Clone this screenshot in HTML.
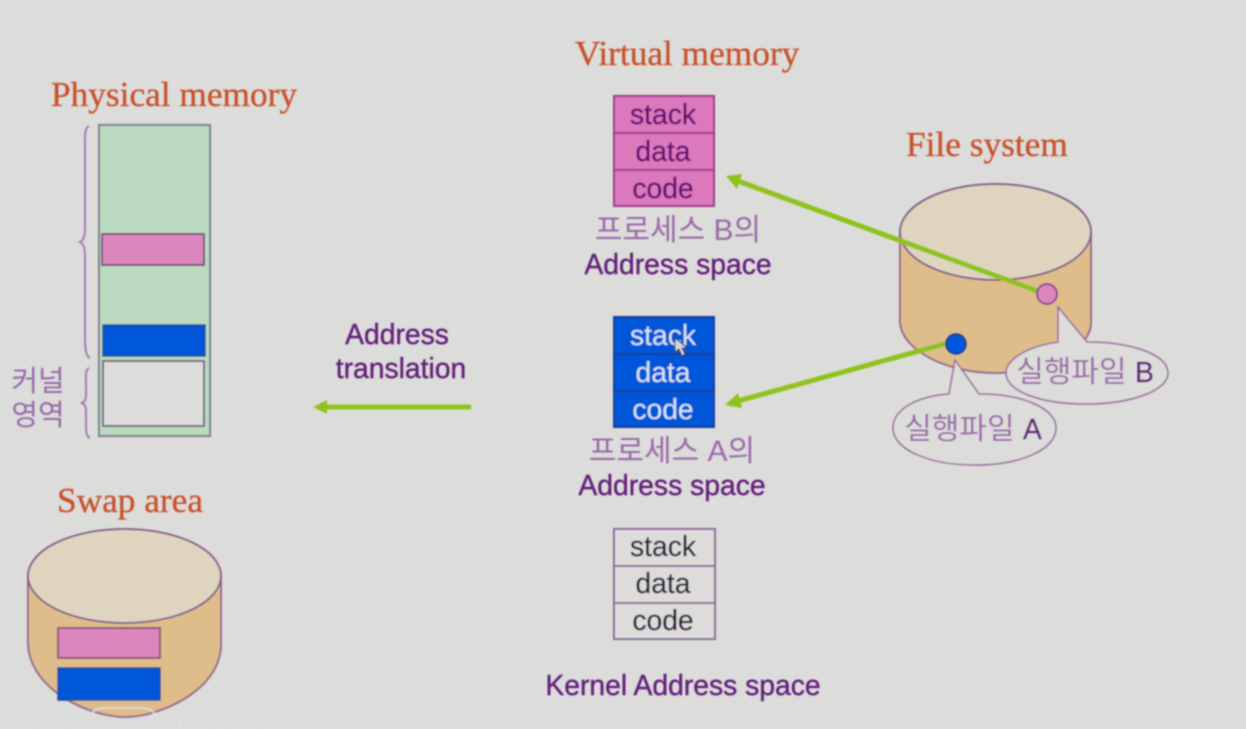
<!DOCTYPE html>
<html><head><meta charset="utf-8"><style>
html,body{margin:0;padding:0;background:#dcdcda;width:1246px;height:729px;overflow:hidden}
svg{display:block}
.t{font-family:"Liberation Serif",serif;fill:#c8512a;font-size:35.300px;stroke:#c8512a;stroke-width:0.300px}
.s{font-family:"Liberation Sans","Noto Sans CJK KR",sans-serif;font-size:28.300px;text-anchor:middle}
.p{fill:#64207c;stroke:#64207c;stroke-width:0.400px}
.k{fill:#9a6aa8;font-size:30px}
</style></head><body>
<svg width="1246" height="729" viewBox="0 0 1246 729" xmlns="http://www.w3.org/2000/svg">
<defs><filter id="b" x="-5%" y="-5%" width="110%" height="110%"><feGaussianBlur stdDeviation="0.7"/></filter></defs>
<rect width="1246" height="729" fill="#dcdcda"/>
<g filter="url(#b)">
<text class="t" x="51" y="106">Physical memory</text>
<text class="t" x="575" y="65">Virtual memory</text>
<text class="t" x="906" y="156">File system</text>
<text class="t" x="57" y="512">Swap area</text>

<!-- Physical memory -->
<rect x="99" y="125" width="111" height="311" fill="#bcdabf" stroke="#7f7f8f" stroke-width="2"/>
<rect x="102" y="234" width="102" height="31" fill="#dc86be" stroke="#77557f" stroke-width="2"/>
<rect x="103" y="325" width="102" height="31" fill="#0457d8" stroke="#1c4a9a" stroke-width="1.500"/>
<rect x="103" y="361" width="101" height="65" fill="#dcdcda" stroke="#77667f" stroke-width="2"/>
<path d="M89 126 C84 128 85 138 85 150 L85 226 C85 236 84 240 80 242 C84 244 85 248 85 258 L85 336 C85 350 86 356 90 358" fill="none" stroke="#a27db2" stroke-width="2"/>
<path d="M89 368 C85 370 86 376 86 384 L86 394 C86 400 85 402 81 403 C85 404 86 406 86 412 L86 424 C86 432 86 436 90 438" fill="none" stroke="#a27db2" stroke-width="2"/>
<text class="s k" x="38" y="391" style="font-size:29px">커널</text>
<text class="s k" x="38" y="425" style="font-size:29px">영역</text>

<!-- Swap cylinder -->
<path d="M28 576 L28 644 C30 690 90 717 125 717 C160 717 221 690 221 644 L221 576 Z" fill="#dfbd8b" stroke="#9a6a8e" stroke-width="2"/>
<ellipse cx="124.500" cy="576" rx="96.500" ry="47" fill="#dfd5bf" stroke="#86618e" stroke-width="2"/>
<rect x="58" y="628" width="102" height="30" fill="#dc86be" stroke="#8a5a70" stroke-width="2"/>
<rect x="58" y="668" width="102" height="32" fill="#0457d8" stroke="#1c4a9a" stroke-width="1.500"/>

<!-- Virtual B -->
<g stroke="#a03a8c" stroke-width="2" fill="#dc78bc">
<rect x="614" y="96" width="100" height="37"/>
<rect x="614" y="133" width="100" height="37"/>
<rect x="614" y="170" width="100" height="36"/>
</g>
<g class="s" fill="#640f72" stroke="#640f72" stroke-width="0.400">
<text x="663" y="124">stack</text><text x="663" y="161">data</text><text x="663" y="198">code</text>
</g>
<text class="s k" x="678" y="240">프로세스 B의</text>
<text class="s p" x="678" y="274">Address space</text>

<!-- Virtual A -->
<g stroke="#123f9a" stroke-width="2" fill="#0457d8">
<rect x="614" y="317" width="100" height="37"/>
<rect x="614" y="354" width="100" height="37"/>
<rect x="614" y="391" width="100" height="36"/>
</g>
<g class="s" fill="#d6e4f4">
<text x="663" y="345">stack</text><text x="663" y="382">data</text><text x="663" y="419">code</text>
</g>
<path d="M675 338 L675 352 L679 349 L682 356 L685 354 L682 348 L687 348 Z" fill="#d8d8d8" stroke="#333" stroke-width="1"/>
<text class="s k" x="672" y="461">프로세스 A의</text>
<text class="s p" x="672" y="495">Address space</text>

<!-- Kernel -->
<g stroke="#8d6a9a" stroke-width="2" fill="#dcdcda">
<rect x="614" y="529" width="101" height="37"/>
<rect x="614" y="566" width="101" height="37"/>
<rect x="614" y="603" width="101" height="36"/>
</g>
<g class="s" fill="#2a2038" stroke="#2a2038" stroke-width="0.300">
<text x="663" y="556">stack</text><text x="663" y="593">data</text><text x="663" y="630">code</text>
</g>
<text class="s p" x="683" y="695">Kernel Address space</text>

<text class="s p" x="397" y="344">Address</text>
<text class="s p" x="401" y="378">translation</text>

<!-- File cylinder -->
<path d="M900 232 L900 322 C902 352 950 373 995 373 C1040 373 1091 352 1091 322 L1091 232 Z" fill="#dfbd8b" stroke="#9a6a8e" stroke-width="2"/>
<ellipse cx="995.500" cy="232" rx="95.500" ry="48" fill="#dfd5bf" stroke="#86618e" stroke-width="2"/>

<!-- Green arrows -->
<g stroke="#8fc31f" stroke-width="5" fill="none">
<line x1="1040" y1="292" x2="738" y2="181"/>
<line x1="948" y1="343" x2="738" y2="401"/>
<line x1="471" y1="407" x2="326" y2="407"/>
</g>
<g fill="#8fc31f">
<polygon points="726,176 742,174 737,189"/>
<polygon points="725,405 738,393 742,408"/>
<polygon points="313,407 327,400 327,414"/>
</g>

<!-- Dots -->
<circle cx="1047" cy="294" r="10" fill="#dc86be" stroke="#8a4a8e" stroke-width="2"/>
<circle cx="956" cy="344" r="10" fill="#0457d8" stroke="#16408a" stroke-width="2"/>

<!-- Callouts -->
<path d="M1058 307 L1087 342 C1130 342 1168 354 1168 373 C1168 391 1130 404 1086 404 C1040 404 1006 391 1006 373 C1006 358 1030 346 1058 342 Z" fill="#dcdcda" stroke="#96689e" stroke-width="1.500"/>
<path d="M955 360 L979 394 C1022 394 1056 408 1056 428 C1056 450 1020 465 975 465 C930 465 893 450 893 428 C893 408 920 396 949 394 Z" fill="#dcdcda" stroke="#96689e" stroke-width="1.500"/>
<text class="s" x="1085" y="382"><tspan class="k">실행파일 </tspan><tspan class="p">B</tspan></text>
<text class="s" x="973" y="439"><tspan class="k">실행파일 </tspan><tspan class="p">A</tspan></text>

<!-- Faint nav icons -->
<g fill="none" stroke="#e0e0de" stroke-width="1.500">
<circle cx="5" cy="722" r="17"/>
<circle cx="52" cy="722" r="17"/>
<circle cx="197" cy="722" r="17"/>
<circle cx="244" cy="722" r="17"/>
<rect x="88" y="708" width="70" height="30" rx="15"/>
</g>
</g>
</svg>
</body></html>
